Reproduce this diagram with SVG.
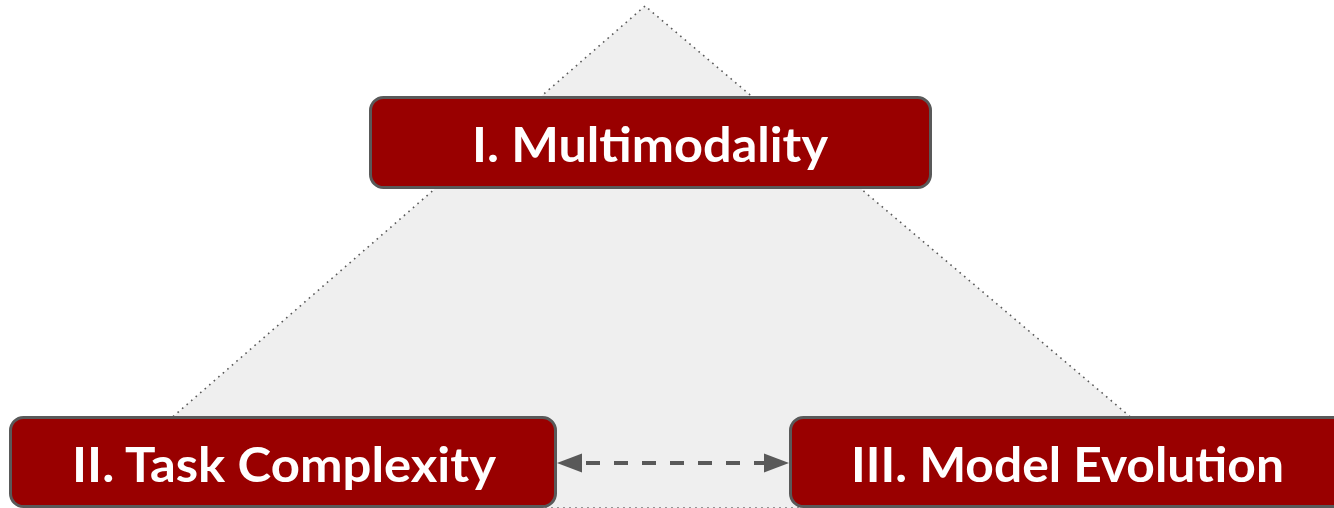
<svg xmlns="http://www.w3.org/2000/svg" width="1334" height="508" viewBox="0 0 1334 508">
  <style>
    .box { fill: #990000; stroke: #595959; stroke-width: 3; }
    .label { fill: #ffffff; font-family: Lato, "Open Sans", sans-serif; font-weight: bold; font-size: 48px; text-anchor: middle; dominant-baseline: central; }
    .link { stroke: #595959; stroke-width: 4; stroke-dasharray: 14 14; fill: none; }
    .head { fill: #595959; }
  </style>

  <!-- background triangle -->
  <polygon points="645,6 68,508 1238,508" fill="#efefef" stroke="#595959" stroke-width="1.6" stroke-dasharray="1.6 4.4"/>

  <g id="connectors">
    <line class="link" x1="580" y1="463" x2="766" y2="463" stroke-dashoffset="-6"/>
    <polygon class="head" points="557,463 582,453.5 582,472.5"/>
    <polygon class="head" points="789,463 764,453.5 764,472.5"/>
  </g>

  <g id="multimodality">
    <rect class="box" x="370.5" y="97.5" width="560" height="90" rx="13"/>
    <text class="label" x="650" y="143" textLength="356" lengthAdjust="spacingAndGlyphs">I. Multimodality</text>
  </g>

  <g id="task-complexity">
    <rect class="box" x="10.5" y="417.5" width="545" height="89" rx="13"/>
    <text class="label" x="284" y="463" textLength="424" lengthAdjust="spacingAndGlyphs">II. Task Complexity</text>
  </g>

  <g id="model-evolution">
    <rect class="box" x="790.5" y="417.5" width="560" height="89" rx="13"/>
    <text class="label" x="1067.5" y="463" textLength="433" lengthAdjust="spacingAndGlyphs">III. Model Evolution</text>
  </g>
</svg>
